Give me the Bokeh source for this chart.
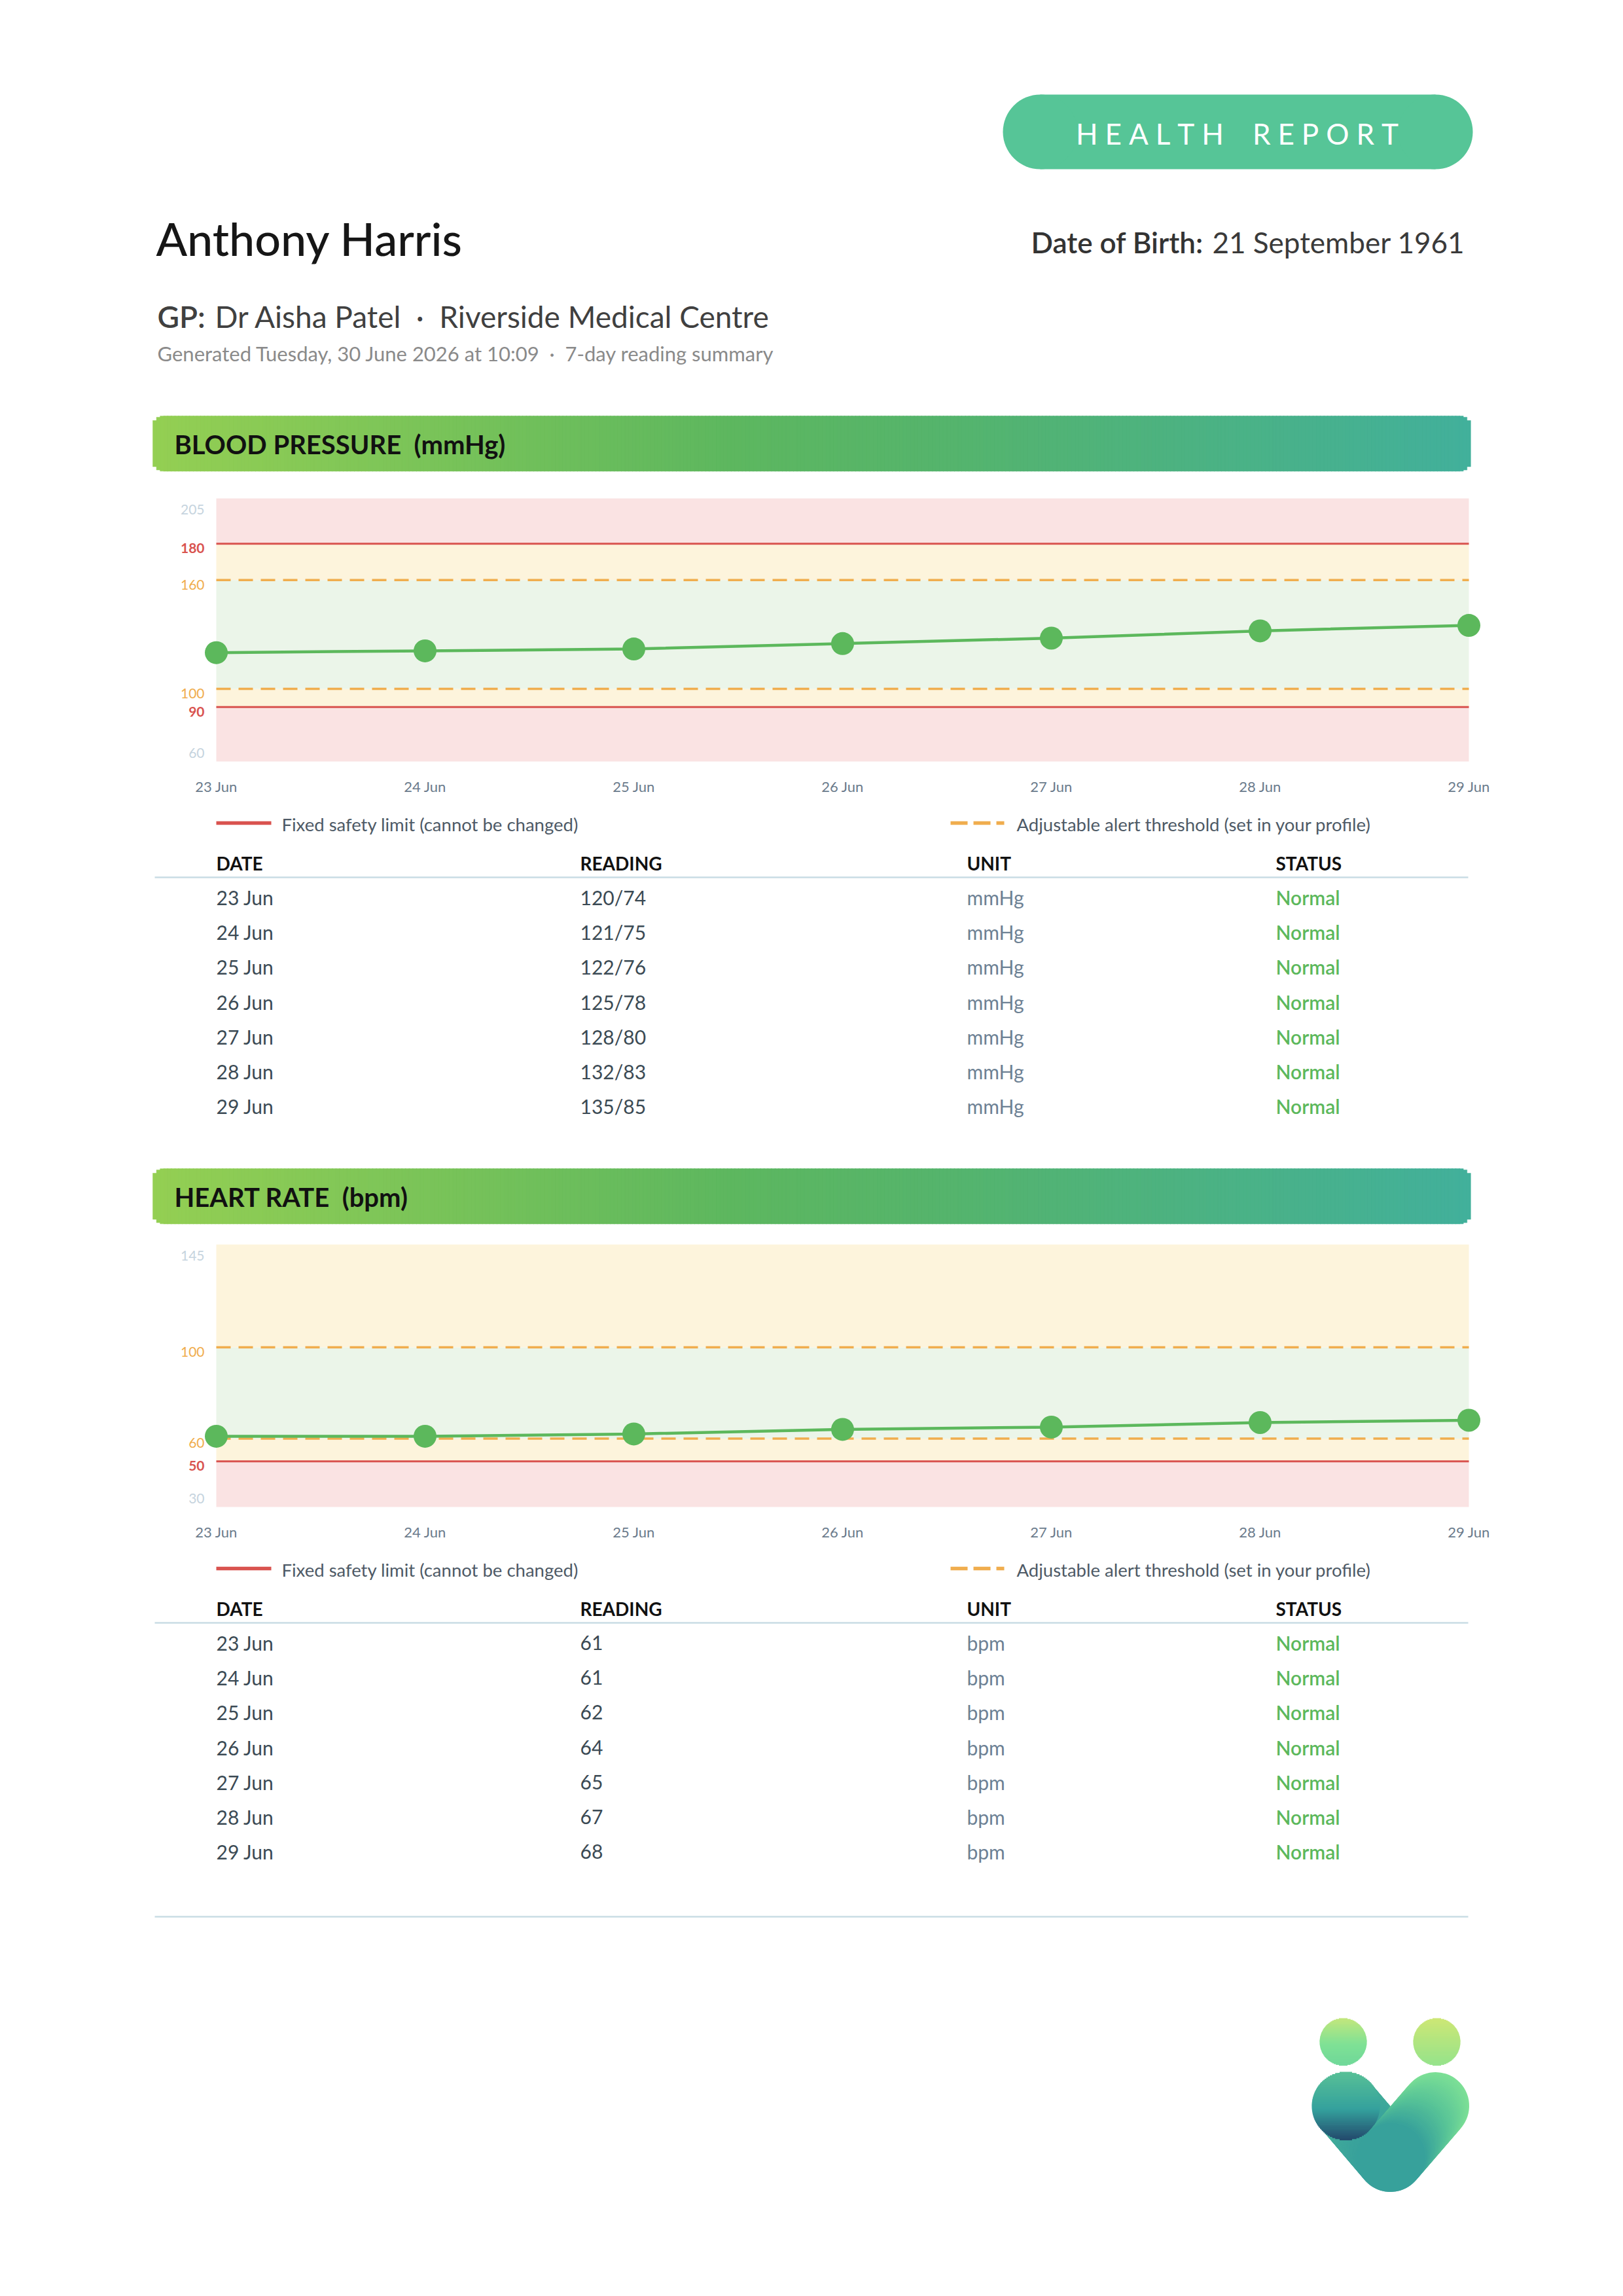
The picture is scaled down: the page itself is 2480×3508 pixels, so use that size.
import numpy as np
from bokeh.plotting import figure
from bokeh.models import Range1d, ColumnDataSource
from bokeh.core.properties import value
from bokeh.embed import file_html
from bokeh.resources import INLINE

# ---------------- readings ----------------
dates = ["23 Jun", "24 Jun", "25 Jun", "26 Jun", "27 Jun", "28 Jun", "29 Jun"]
bp_systolic = [120, 121, 122, 125, 128, 132, 135]
bp_diastolic = [74, 75, 76, 78, 80, 83, 85]
heart_rate = [61, 61, 62, 64, 65, 67, 68]
bp_status = ["Normal", "Normal", "Normal", "Normal", "Normal", "Normal", "Normal"]
hr_status = ["Normal", "Normal", "Normal", "Normal", "Normal", "Normal", "Normal"]

# axis extents, fixed safety limits and adjustable alert thresholds
bp_axis = [60, 205]
bp_fixed = [90, 180]
bp_alert = [100, 160]
hr_axis = [30, 145]
hr_fixed = [50, None]
hr_alert = [60, 100]

table_headers = ["DATE", "READING", "UNIT", "STATUS"]

# ---------------- page ----------------
PAGE_W, PAGE_H = 2480, 3508
FONT = value("Lato")
FONT_MED = value("'Lato Medium', Lato")
FONT_SEMI = value("'Lato Semibold', Lato")

p = figure(width=PAGE_W, height=PAGE_H,
           x_range=Range1d(0, PAGE_W), y_range=Range1d(PAGE_H, 0),
           x_axis_location=None, y_axis_location=None,
           output_backend="svg", toolbar_location=None, min_border=0)
p.xgrid.visible = False
p.ygrid.visible = False
p.outline_line_color = None
p.background_fill_color = "white"
p.border_fill_color = "white"

RED = "#d9534f"
ORANGE = "#f0ad4e"
GREEN = "#5cb85c"
ZONE_RED = "#fae3e3"
ZONE_YELLOW = "#fdf4dc"
ZONE_GREEN = "#ebf5e9"
LIGHT_TICK = "#c6d4de"
SLATE = "#3b4a54"
MUTED = "#6d8194"

PLOT_L, PLOT_R = 330, 2244
COL_X = [330, 886, 1477, 1949]


def put(x, y, s, size, color, style="normal", align="left", font=FONT, api=None, **kw):
    # y is the vertical centre of the capital letters
    (api or p).text(x=[x], y=[y], text=[s], text_font=font, text_font_size=f"{size}px",
                    text_color=color, text_font_style=style, text_align=align,
                    text_baseline="middle", **kw)


def hex_mix(stops, ts):
    out = []
    for t in ts:
        for (t0, c0), (t1, c1) in zip(stops[:-1], stops[1:]):
            if t <= t1:
                break
        f = 0.0 if t1 == t0 else min(max((t - t0) / (t1 - t0), 0.0), 1.0)
        a = [int(c0[i:i + 2], 16) for i in (1, 3, 5)]
        b = [int(c1[i:i + 2], 16) for i in (1, 3, 5)]
        out.append("#%02x%02x%02x" % tuple(int(round(a[k] + (b[k] - a[k]) * f)) for k in range(3)))
    return out


def gradient_bar(x0, x1, y0, y1, r, stops, n=360):
    edges = np.linspace(x0, x1, n + 1)
    mids = (edges[:-1] + edges[1:]) / 2
    d = np.minimum(mids - x0, x1 - mids)
    inset = np.where(d < r, r - np.sqrt(np.clip(r ** 2 - (r - d) ** 2, 0, None)), 0.0)
    cols = hex_mix(stops, (mids - x0) / (x1 - x0))
    p.quad(left=edges[:-1], right=edges[1:] + 0.8, top=y0 + inset, bottom=y1 - inset,
           fill_color=cols, line_color=cols, line_width=0.5)


def gradient_disc(cx, cy, r, stops, n=60):
    edges = np.linspace(cy - r, cy + r, n + 1)
    mids = (edges[:-1] + edges[1:]) / 2
    half = np.sqrt(np.clip(r ** 2 - (mids - cy) ** 2, 0, None))
    cols = hex_mix(stops, (mids - (cy - r)) / (2 * r))
    p.quad(left=cx - half, right=cx + half, top=edges[:-1], bottom=edges[1:] + 0.6,
           fill_color=cols, line_color=None)


def gradient_stroke(x0, y0, x1, y1, width, stops, n=40):
    ts = np.linspace(0, 1, n + 1)
    xs = x0 + (x1 - x0) * ts
    ys = y0 + (y1 - y0) * ts
    cols = hex_mix(stops, (ts[:-1] + ts[1:]) / 2)
    p.multi_line(xs=[[xs[i], xs[i + 1]] for i in range(n)], ys=[[ys[i], ys[i + 1]] for i in range(n)],
                 line_color=cols, line_width=width, line_cap="round")


# ---------------- header ----------------
# pill badge
p.quad(left=1589, right=2193, top=144, bottom=258, fill_color="#56c597", line_color=None)
p.circle(x=[1589, 2193], y=[201, 201], radius=57, fill_color="#56c597", line_color=None)
sp = "\u2005"
badge = sp.join("HEALTH") + sp * 4 + sp.join("REPORT")
put(1890, 203, badge, 44, "white", align="center")

put(238, 363, "Anthony Harris", 70, "#161616", font=FONT_MED)
put(1575, 369, "Date of Birth:", 44, "#333333", font=FONT_SEMI)
put(2238, 369, "21 September 1961", 44, "#3a3a3a", align="right")

put(240, 483, "GP:", 46, "#404040", font=FONT_SEMI)
put(328, 483, "Dr Aisha Patel\u00a0\u00a0·\u00a0\u00a0Riverside Medical Centre", 46, "#404040")
put(240, 539, "Generated Tuesday, 30 June 2026 at 10:09\u00a0\u00a0·\u00a0\u00a07-day reading summary", 31, "#8a8a8a")

BAR_STOPS = [(0.0, "#94cf53"), (0.44, "#5db75f"), (0.6, "#55b46c"), (1.0, "#42b09b")]


def vital_section(title, bar_top, plot_top, plot_bottom, axis, fixed, alert, values, readings, unit, statuses):
    # section heading band
    gradient_bar(233, 2246, bar_top, bar_top + 84.5, 16, BAR_STOPS)
    put(266, bar_top + 43, title, 40, "#111111", style="bold")

    lo, hi = axis
    f_lo, f_hi = fixed
    a_lo, a_hi = alert
    n = len(dates)
    xs = list(range(n))
    sub = p.subplot(x_source=Range1d(0, n - 1), y_source=Range1d(lo, hi),
                    x_target=Range1d(PLOT_L, PLOT_R), y_target=Range1d(plot_bottom, plot_top))

    # background zones
    top_fixed = f_hi if f_hi is not None else hi
    zb = [lo, f_lo, a_lo, a_hi]
    zt = [f_lo, a_lo, a_hi, top_fixed]
    zc = [ZONE_RED, ZONE_YELLOW, ZONE_GREEN, ZONE_YELLOW]
    if f_hi is not None:
        zb.append(f_hi)
        zt.append(hi)
        zc.append(ZONE_RED)
    sub.quad(left=[0] * len(zb), right=[n - 1] * len(zb), bottom=zb, top=zt,
             fill_color=zc, line_color=None)

    # limit lines
    fixed_vals = [v for v in fixed if v is not None]
    for v in fixed_vals:
        sub.line(x=[0, n - 1], y=[v, v], line_color=RED, line_width=3)
    for v in alert:
        sub.line(x=[0, n - 1], y=[v, v], line_color=ORANGE, line_width=3.5, line_dash="22 12")

    # y tick labels
    tick = dict(text_font=FONT, text_font_size="21px", text_align="right", text_baseline="middle")
    sub.text(x=[0, 0], y=[hi, lo], text=[str(hi), str(lo)], x_offset=-18, y_offset=[17, -13],
             text_color=LIGHT_TICK, **tick)
    sub.text(x=[0] * len(alert), y=alert, text=[str(v) for v in alert], x_offset=-18, y_offset=7,
             text_color=ORANGE, **tick)
    sub.text(x=[0] * len(fixed_vals), y=fixed_vals, text=[str(v) for v in fixed_vals], x_offset=-18,
             y_offset=7, text_color=RED, text_font_style="bold", **tick)

    # x tick labels
    sub.text(x=xs, y=[lo] * n, text=dates, y_offset=38, text_font=FONT, text_font_size="22px",
             text_color="#6b7b8c", text_align="center", text_baseline="middle")

    # readings
    sub.line(x=xs, y=values, line_color=GREEN, line_width=4.5)
    sub.scatter(x=xs, y=values, size=35, fill_color=GREEN, line_color=None)

    # legend
    ly = plot_bottom + 94
    p.line(x=[330, 414], y=[ly, ly], line_color=RED, line_width=5.5)
    put(430, plot_bottom + 96, "Fixed safety limit (cannot be changed)", 27.5, "#4e5a66")
    p.line(x=[1452, 1534], y=[ly, ly], line_color=ORANGE, line_width=5.5, line_dash="26 9")
    put(1553, plot_bottom + 96, "Adjustable alert threshold (set in your profile)", 27.5, "#4e5a66")

    # table
    for x, label in zip(COL_X, table_headers):
        put(x, plot_bottom + 155, label, 28, "#111111", style="bold")
    p.line(x=[236, 2243], y=[plot_bottom + 177, plot_bottom + 177], line_color="#c9dce4", line_width=2.5)
    ys = [plot_bottom + 207.4 + i * 53.2 for i in range(n)]
    src = ColumnDataSource(dict(y=ys, date=dates, reading=readings, unit=[unit] * n, status=statuses))
    common = dict(y="y", source=src, text_font_size="30px", text_baseline="middle")
    p.text(x=COL_X[0], text="date", text_color=SLATE, text_font=FONT, **common)
    p.text(x=COL_X[1], text="reading", text_color=SLATE, text_font=FONT, **common)
    p.text(x=COL_X[2], text="unit", text_color=MUTED, text_font=FONT, **common)
    p.text(x=COL_X[3], text="status", text_color=GREEN, text_font=FONT_SEMI, **common)


vital_section("BLOOD PRESSURE\u00a0\u00a0(mmHg)", 635, 761, 1163, bp_axis, bp_fixed, bp_alert,
              bp_systolic, [f"{s}/{d}" for s, d in zip(bp_systolic, bp_diastolic)], "mmHg", bp_status)
vital_section("HEART RATE\u00a0\u00a0(bpm)", 1785, 1901, 2302, hr_axis, hr_fixed, hr_alert,
              heart_rate, [str(v) for v in heart_rate], "bpm", hr_status)

# closing rule
p.line(x=[236, 2243], y=[2928, 2928], line_color="#c9dce4", line_width=2.5)

# ---------------- brand mark ----------------
gradient_stroke(2056, 3217, 2124, 3297, 103, [(0.0, "#46b09a"), (1.0, "#38a19b")])
gradient_disc(2056, 3217, 52, [(0.0, "#58c096"), (0.55, "#34a19d"), (1.0, "#23496c")])
gradient_stroke(2193, 3217, 2124, 3297, 103, [(0.0, "#7de096"), (0.5, "#58c497"), (1.0, "#36a09b")])
gradient_disc(2052, 3119, 36, [(0.0, "#c3e77c"), (0.55, "#7fe195"), (1.0, "#6fd899")])
gradient_disc(2195, 3119, 36, [(0.0, "#cde775"), (1.0, "#95e38b")])

open("out.html", "w").write(file_html(p, INLINE))
